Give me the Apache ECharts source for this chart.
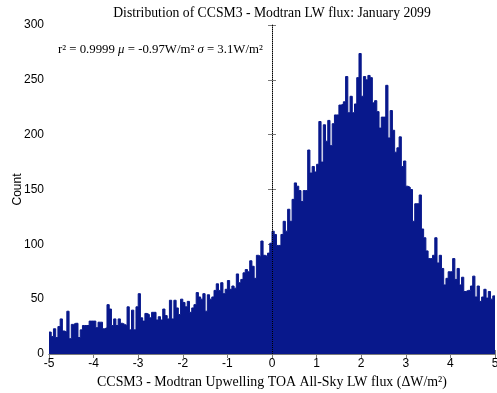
<!DOCTYPE html>
<html>
<head>
<meta charset="utf-8">
<script src="https://cdn.jsdelivr.net/npm/echarts@6/dist/echarts.min.js"></script>
<style>html,body{margin:0;padding:0;background:#fff;}#c{width:497px;height:393px;}</style>
</head>
<body>
<div id="c"></div>
<script>
// Histogram bins: start, width and counts per bin
const binStart = -5;
const binWidth = 0.05;
const counts = [
  20,16,23,15,25,32,21,20,39,14, 27,28,28,15,22,26,26,26,30,30,
  30,24,29,29,23,24,45,41,26,32, 26,32,28,27,26,43,22,40,22,43,
  55,33,30,37,36,33,38,38,31,34, 31,41,35,32,49,32,49,42,36,50,
  47,43,48,38,42,45,56,52,50,55, 39,54,50,52,58,64,58,65,55,59,
  67,59,62,60,73,65,68,74,77,75, 85,80,69,90,89,103,90,89,92,101,
  112,109,99,99,109,121,112,132,121,141, 156,153,149,139,149,149,186,165,171,166,
  173,212,175,209,194,213,190,210,218,218, 227,228,230,253,220,235,220,228,252,274,
  235,253,250,254,252,229,231,221,206,216, 216,245,197,222,204,184,188,198,171,176,
  153,152,150,121,137,137,145,114,106,94, 87,87,90,106,83,90,78,63,69,75,
  75,87,68,78,63,70,57,58,58,62, 71,52,62,48,52,59,51,57,50,53
];
const xTicks = [-5, 5, 1];
const yTicks = [0, 300, 50];
const refLineX = 0;

const titleText = 'Distribution of CCSM3 - Modtran LW flux: January 2099';
const xLabel = 'CCSM3 - Modtran Upwelling TOA All-Sky LW flux (\u0394W/m\u00B2)';
const yLabel = 'Count';

// step data: each bin's left edge with its count, plus the closing right edge
const stepData = counts.map((c, i) => [binStart + i * binWidth, c]);
stepData.push([binStart + counts.length * binWidth, counts[counts.length - 1]]);

const chart = echarts.init(document.getElementById('c'), null, {renderer: 'canvas'});
const axisColor = '#7a7a7a';
const barColor = '#08188C';
const serif = '"Liberation Serif", "DejaVu Serif", serif';
const sans = '"Liberation Sans", Arial, sans-serif';

chart.setOption({
  animation: false,
  backgroundColor: '#fff',
  title: [{
    text: titleText, left: 267, top: 1, textAlign: 'center',
    textStyle: {fontFamily: serif, fontSize: 13.7, fontWeight: 'normal', color: '#000'}
  }, {
    text: '{r|r\u00B2 = 0.9999 }{i|\u03BC}{r| = -0.97W/m\u00B2 }{i|\u03C3}{r| = 3.1W/m\u00B2}',
    left: 53, top: 38,
    textStyle: {
      fontWeight: 'normal',
      rich: {
        r: {fontFamily: serif, fontSize: 12.8, fontWeight: 'normal', color: '#000'},
        i: {fontFamily: serif, fontSize: 12.8, fontWeight: 'normal', fontStyle: 'italic', color: '#000'}
      }
    }
  }],
  grid: {left: 49, right: 2, top: 25, bottom: 39, containLabel: false, outerBoundsMode: 'none'},
  xAxis: [{
    type: 'value', min: xTicks[0], max: xTicks[1], interval: xTicks[2],
    name: xLabel, nameLocation: 'middle', nameGap: 21,
    nameTextStyle: {fontFamily: serif, fontSize: 13.9, color: '#000'},
    axisLine: {show: true, lineStyle: {color: axisColor, width: 1}},
    axisTick: {show: true, inside: true, length: 4, lineStyle: {color: axisColor}},
    axisLabel: {fontFamily: sans, fontSize: 12, color: '#000', margin: 4},
    splitLine: {show: false}
  }, {
    type: 'value', position: 'top', min: xTicks[0], max: xTicks[1], interval: xTicks[2],
    axisLine: {show: true, lineStyle: {color: axisColor, width: 1}},
    axisTick: {show: true, inside: true, length: 4, lineStyle: {color: axisColor}},
    axisLabel: {show: false}, splitLine: {show: false}
  }],
  yAxis: [{
    type: 'value', min: yTicks[0], max: yTicks[1], interval: yTicks[2],
    name: yLabel, nameLocation: 'middle', nameGap: 25, nameRotate: 90,
    nameMoveOverlap: false,
    nameTextStyle: {fontFamily: sans, fontSize: 12, color: '#000'},
    axisLine: {show: true, lineStyle: {color: axisColor, width: 1}},
    axisTick: {show: true, inside: true, length: 4, lineStyle: {color: axisColor}},
    axisLabel: {fontFamily: sans, fontSize: 12, color: '#000', margin: 5},
    splitLine: {show: false}
  }, {
    type: 'value', position: 'right', min: yTicks[0], max: yTicks[1], interval: yTicks[2],
    axisLine: {show: true, lineStyle: {color: axisColor, width: 1}},
    axisTick: {show: true, inside: true, length: 4, lineStyle: {color: axisColor}},
    axisLabel: {show: false}, splitLine: {show: false}
  }],
  series: [{
    type: 'line',
    xAxisIndex: 0, yAxisIndex: 0,
    data: stepData,
    step: 'end',
    symbol: 'none',
    lineStyle: {color: barColor, width: 1},
    areaStyle: {color: barColor, opacity: 1, origin: 'start'},
    silent: true,
    z: 2,
    markLine: {
      silent: true, symbol: 'none', z: 10,
      lineStyle: {type: 'dotted', color: '#000', width: 1},
      label: {show: false},
      emphasis: {disabled: true},
      data: [{xAxis: refLineX}]
    }
  }]
});
</script>
</body>
</html>
